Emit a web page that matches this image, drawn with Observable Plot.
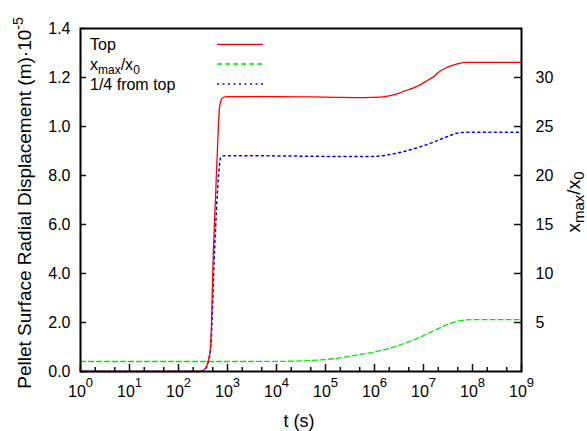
<!DOCTYPE html>
<html><head><meta charset="utf-8">
<script src="https://cdn.jsdelivr.net/npm/d3@7"></script>
<script src="https://cdn.jsdelivr.net/npm/@observablehq/plot@0.6"></script>
<style>
body{margin:0;background:#fff}
svg{font-family:"Liberation Sans",Arial,Helvetica,sans-serif}
</style>
</head><body><div id="chart"></div>
<script>
// ---- data (t in s; displacement in 1e-5 m; x_max/x_0 ratio) ----
const topT = [1, 250, 300, 360, 400, 450, 518, 625, 687, 750, 850, 1000, 1e4, 1e5, 6e5, 1.3e6, 2.1e6, 3e6, 4e6, 6.3e6, 8.7e6, 1.2e7, 1.7e7, 1.9e7, 3.1e7, 4.9e7, 7.9e7, 1e9];
const topV = [0, 0, 0.002, 0.015, 0.04, 0.098, 0.506, 0.914, 1.078, 1.11, 1.12, 1.122, 1.122, 1.12, 1.118, 1.12, 1.126, 1.134, 1.144, 1.158, 1.171, 1.188, 1.207, 1.217, 1.242, 1.256, 1.262, 1.262];

const quarterT = [1, 250, 300, 360, 400, 455, 548, 646, 720, 800, 1000, 1e4, 1.26e5, 9.5e5, 2.1e6, 6.3e6, 1.4e7, 3.1e7, 5.1e7, 9.1e7, 1e9];
const quarterV = [0, 0, 0.002, 0.012, 0.035, 0.098, 0.506, 0.78, 0.87, 0.88, 0.881, 0.88, 0.878, 0.878, 0.886, 0.909, 0.932, 0.959, 0.974, 0.977, 0.977];

const xmaxT = [1, 1e3, 1e4, 1e5, 6e5, 9.5e5, 2.1e6, 6.3e6, 1.4e7, 3.1e7, 5.8e7, 1.05e8, 1e9];
const xmaxV = [1.02, 1.02, 1.03, 1.22, 1.8, 1.97, 2.38, 3.23, 4.0, 4.8, 5.2, 5.3, 5.3];

const xMajor = [1e0, 1e1, 1e2, 1e3, 1e4, 1e5, 1e6, 1e7, 1e8, 1e9];
const xMinorMult = [2, 5];
const yLeftTicks = [0, 0.2, 0.4, 0.6, 0.8, 1.0, 1.2, 1.4];
const yLeftLabels = ["0.0", "2.0", "4.0", "6.0", "8.0", "1.0", "1.2", "1.4"];
const yRightTicks = [5, 10, 15, 20, 25, 30];
const rightFactor = 25; // right axis value = left value * 25

const seriesNames = ["Top", "x_max/x_0", "1/4 from top"];
const seriesColors = ["#ff0000", "#00e800", "#0000ff"];

// ---- build ----
const topData = topT.map((t, i) => ({t, v: topV[i]}));
const quarterData = quarterT.map((t, i) => ({t, v: quarterV[i]}));
const xmaxData = xmaxT.map((t, i) => ({t, v: xmaxV[i]}));
const xMinor = xMajor.slice(0, -1).flatMap(d => xMinorMult.map(m => d * m));

const W = 587, H = 431, mL = 80, mR = 66, mT = 28, mB = 60;
const pW = W - mL - mR, pH = H - mT - mB;

const chart = Plot.plot({
  width: W, height: H,
  marginLeft: mL, marginRight: mR, marginTop: mT, marginBottom: mB,
  style: {fontFamily: '"Liberation Sans", Arial, sans-serif', fontSize: "16px", background: "#fff", color: "#000", overflow: "visible"},
  x: {type: "log", domain: [1, 1e9]},
  y: {domain: [0, 1.4]},
  marks: [
    Plot.line(xmaxData, {x: "t", y: d => d.v / rightFactor, stroke: seriesColors[1], strokeWidth: 1.3, strokeDasharray: "5,3", curve: "monotone-x"}),
    Plot.line(quarterData, {x: "t", y: "v", stroke: seriesColors[2], strokeWidth: 1.5, strokeDasharray: "2,3.5", curve: "monotone-x"}),
    Plot.line(topData, {x: "t", y: "v", stroke: seriesColors[0], strokeWidth: 1.3, curve: "monotone-x"}),
    Plot.tickX(xMajor, {x: d => d, insetTop: pH - 7, stroke: "#111", strokeWidth: 1.5}),
    Plot.tickX(xMinor, {x: d => d, insetTop: pH - 4, stroke: "#111", strokeWidth: 1.5}),
    Plot.tickY(yLeftTicks, {y: d => d, insetRight: pW - 6, stroke: "#111", strokeWidth: 1.5}),
    Plot.tickY(yRightTicks, {y: d => d / rightFactor, insetLeft: pW - 7, stroke: "#111", strokeWidth: 1.5}),
    Plot.axisX(xMajor, {tickSize: 0, tickPadding: 14, fontSize: 16, label: null,
      tickFormat: d => "10^" + Math.round(Math.log10(d))}),
    Plot.axisY(yLeftTicks, {anchor: "left", tickSize: 0, tickPadding: 10, fontSize: 16, label: null,
      tickFormat: d => yLeftLabels[yLeftTicks.indexOf(d)]}),
    Plot.axisY(yRightTicks.map(d => d / rightFactor), {anchor: "right", tickSize: 0, tickPadding: 14, fontSize: 16, label: null,
      tickFormat: d => String(Math.round(d * rightFactor))}),
    Plot.frame({stroke: "#000", strokeWidth: 2})
  ]
});
document.getElementById("chart").appendChild(chart);

const svg = d3.select(chart);

// superscripts in x tick labels
svg.selectAll("g[aria-label='x-axis tick label'] text").each(function() {
  const s = this.textContent;
  if (s.includes("^")) {
    const [base, exp] = s.split("^");
    const el = d3.select(this);
    el.text(base);
    el.append("tspan").attr("dy", "-10").attr("font-size", 13).text(exp);
  }
});

// axis titles
const leftT = svg.append("text")
  .attr("transform", "translate(31,203) rotate(-90)")
  .attr("text-anchor", "middle").attr("font-size", 19).attr("fill", "#000");
leftT.append("tspan").text("Pellet Surface Radial Displacement (m)·10");
leftT.append("tspan").attr("dy", -8).attr("font-size", 14).text("-5");

const rightT = svg.append("text")
  .attr("transform", "translate(580,202) rotate(-90)")
  .attr("text-anchor", "middle").attr("font-size", 19).attr("fill", "#000");
rightT.append("tspan").text("x");
rightT.append("tspan").attr("dy", 4).attr("font-size", 15).text("max");
rightT.append("tspan").attr("dy", -4).text("/x");
rightT.append("tspan").attr("dy", 4).attr("font-size", 15).text("0");

svg.append("text").attr("x", 299).attr("y", 427).attr("text-anchor", "middle")
  .attr("font-size", 18).attr("fill", "#000").text("t (s)");

// legend
const legY = [44.3, 64, 84];
const dashes = [null, "5,3", "2,3.5"];
const widths = [1.3, 1.3, 1.5];
const leg = svg.append("g").attr("font-size", 16).attr("fill", "#000").attr("text-anchor", "start");
seriesNames.forEach((name, i) => {
  const tx = leg.append("text").attr("x", 90).attr("y", legY[i] + 6).attr("text-anchor", "start");
  if (name.includes("_")) {
    tx.append("tspan").text("x");
    tx.append("tspan").attr("dy", 4).attr("font-size", 12).text("max");
    tx.append("tspan").attr("dy", -4).text("/x");
    tx.append("tspan").attr("dy", 4).attr("font-size", 12).text("0");
  } else {
    tx.text(name);
  }
  leg.append("line").attr("x1", 217).attr("x2", 263).attr("y1", legY[i]).attr("y2", legY[i])
    .attr("stroke", seriesColors[i]).attr("stroke-width", widths[i])
    .attr("stroke-dasharray", dashes[i]);
});
</script>
</body></html>
